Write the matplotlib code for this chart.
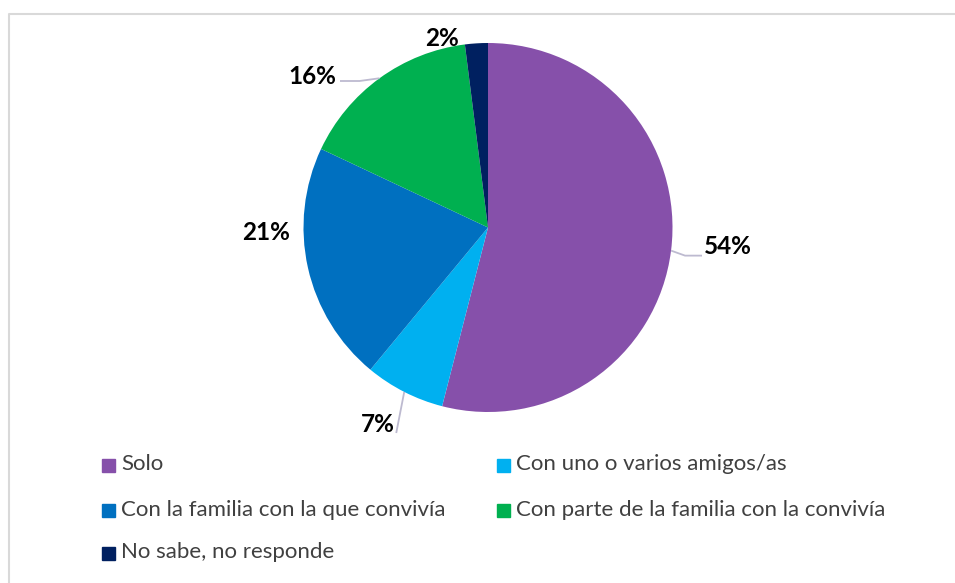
import matplotlib
matplotlib.use("Agg")
import matplotlib.pyplot as plt
import matplotlib.patches as mpatches
import numpy as np

# data
categories = ["Solo", "Con uno o varios amigos/as", "Con la familia con la que convivía",
              "Con parte de la familia con la convivía", "No sabe, no responde"]
values = [54, 7, 21, 16, 2]
labels = ["54%", "7%", "21%", "16%", "2%"]
colors = ["#8650AA", "#00B0F0", "#0070C0", "#00B050", "#002060"]

# label positions in pixels (x, y from top), and whether a leader line is drawn
label_pos = [(728, 247), (378, 425), (266, 232), (312, 77), (442, 38)]
leader = [True, True, False, True, False]

W, H = 955, 583
fig = plt.figure(figsize=(W / 100, H / 100), dpi=100)
ax = fig.add_axes([0, 0, 1, 1])

cx, cy, r = 488, H - 227.5, 184.5
wedges, _ = ax.pie(values, colors=colors, startangle=90, counterclock=False,
                   center=(cx, cy), radius=r, frame=True,
                   wedgeprops=dict(linewidth=0))
ax.set_xlim(0, W)
ax.set_ylim(0, H)
ax.set_aspect("equal")
ax.axis("off")

line_col = "#BDBAD0"
for w, lab, pos, ld in zip(wedges, labels, label_pos, leader):
    lx, ly = pos[0], H - pos[1]
    ax.text(lx, ly, lab, ha="center", va="center", fontsize=17.5, fontweight="bold",
            family="Lato", color="black")
    if ld:
        mid = np.deg2rad((w.theta1 + w.theta2) / 2)
        ex, ey = cx + r * np.cos(mid), cy + r * np.sin(mid)
        if lab == "54%":
            pts = [(ex, ey), (ex + 14, ey - 5), (lx - 26, ey - 5)]
        elif lab == "7%":
            pts = [(ex, ey), (ex - 8, ly - 8)]
        else:
            pts = [(ex, ey), (ex - 20, ly - 4), (lx + 28, ly - 4)]
        xs, ys = zip(*pts)
        ax.plot(xs, ys, color=line_col, lw=1.3, solid_capstyle="butt")

# chart border (only top and left visible)
ax.plot([8.5, 8.5, W], [0, H - 13.5, H - 13.5], color="#D9D9D9", lw=1.5)

# legend
leg_x = [102, 497]
leg_y = [465, 510, 553]
for i, (cat, col) in enumerate(zip(categories, colors)):
    x = leg_x[i % 2]
    y = H - leg_y[i // 2]
    ax.add_patch(mpatches.Rectangle((x, y - 6.5), 13, 13, color=col))
    ax.text(x + 19, y + 0.5, cat, ha="left", va="center", fontsize=16,
            family="Lato", color="#404040")

fig.savefig("out.png", dpi=100)
